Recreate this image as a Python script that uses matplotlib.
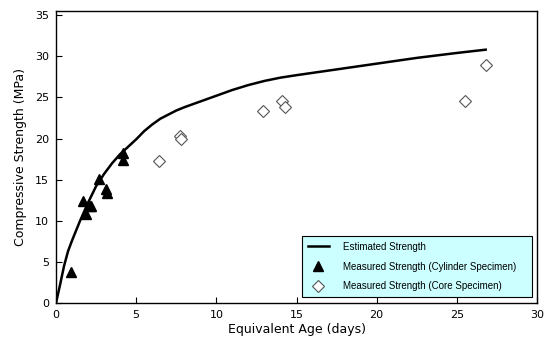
import numpy as np
import matplotlib
matplotlib.use("Agg")
import matplotlib.pyplot as plt

# ================ Data ================
est_age = [0, 0.25, 0.5, 0.75, 1.0, 1.5, 2.0, 2.5, 3.0, 3.5, 4.0, 5.0, 5.5,
           6.0, 6.5, 7.0, 7.5, 8.0, 9.0, 10, 11, 12, 13, 14, 15, 17.5, 20,
           22.5, 25, 26.8]
est_strength = [0, 2.2, 4.5, 6.3, 7.6, 10.0, 12.2, 14.2, 15.7, 17.0, 18.1,
                19.9, 20.9, 21.7, 22.4, 22.9, 23.4, 23.8, 24.5, 25.2, 25.9,
                26.5, 27.0, 27.4, 27.7, 28.4, 29.1, 29.8, 30.4, 30.8]

cyl_age = [0.95, 1.7, 1.85, 2.1, 2.2, 2.7, 3.1, 3.15, 4.15, 4.2]
cyl_strength = [3.8, 12.4, 10.8, 11.8, 11.8, 15.1, 13.9, 13.4, 17.4, 18.2]

core_age = [6.45, 7.75, 7.8, 12.9, 14.1, 14.3, 25.5, 26.8]
core_strength = [17.3, 20.3, 19.9, 23.4, 24.5, 23.8, 24.6, 28.9]

x_ticks = [0, 5, 10, 15, 20, 25, 30]
y_ticks = [0, 5, 10, 15, 20, 25, 30, 35]

plt.rcParams['font.family'] = ['DejaVu Sans']

fig = plt.figure(figsize=(5.46, 3.41), dpi=100)
ax = fig.add_axes([0.1026, 0.1114, 0.8809, 0.8563])

ax.plot(est_age, est_strength, color='black', lw=1.8, label='Estimated Strength')
ax.plot(cyl_age, cyl_strength, linestyle='none', marker='^', ms=7.5,
        color='black', label='Measured Strength (Cylinder Specimen)')
ax.plot(core_age, core_strength, linestyle='none', marker='D', ms=6,
        markerfacecolor='white', markeredgecolor='#555555', mew=0.8,
        label='Measured Strength (Core Specimen)')

ax.set_xlim(0, 30)
ax.set_ylim(0, 35.5)
ax.set_xticks(x_ticks)
ax.set_yticks(y_ticks)
ax.tick_params(direction='in', length=4, width=0.8, labelsize=8, pad=5,
               top=False, right=False)
ax.set_xlabel('Equivalent Age (days)', fontsize=9, labelpad=2)
ax.set_ylabel('Compressive Strength (MPa)', fontsize=9, labelpad=6)
for s in ax.spines.values():
    s.set_linewidth(1.0)

leg = ax.legend(loc='lower left', bbox_to_anchor=(0.511, 0.02, 0.479, 0.21),
                mode='expand', frameon=True, fancybox=False, borderaxespad=0,
                edgecolor='black', facecolor='#ccffff', framealpha=1,
                borderpad=0.6, labelspacing=1.0, handlelength=2.2,
                handletextpad=1.4, prop={'family': 'Liberation Sans', 'size': 7})
leg.get_frame().set_linewidth(0.8)

fig.savefig('out.png', dpi=100)
